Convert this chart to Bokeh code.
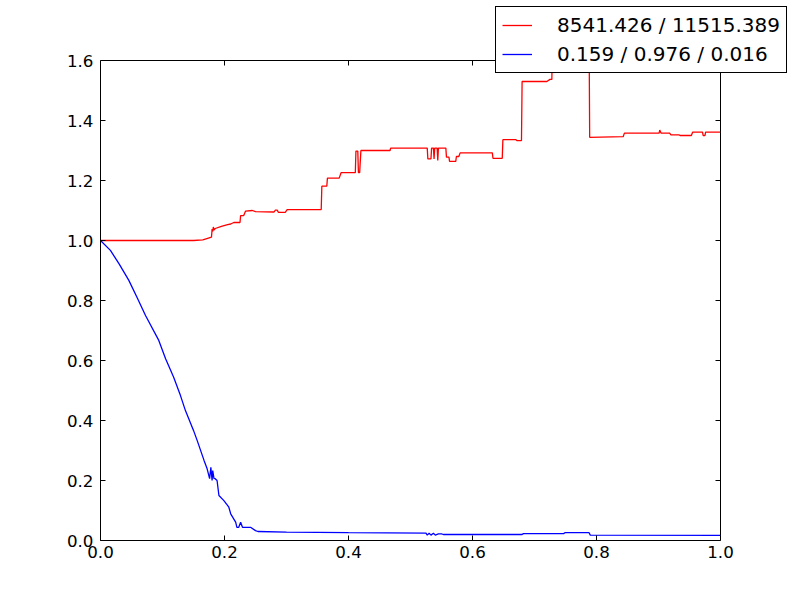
from bokeh.plotting import figure
from bokeh.models import Range1d, LinearAxis, FixedTicker, PrintfTickFormatter, Legend, LegendItem
from bokeh.embed import file_html
from bokeh.resources import INLINE

# Red series (ratio)
red_x = [0.0, 0.15, 0.165, 0.174, 0.179, 0.180, 0.181, 0.182, 0.183, 0.185, 0.195, 0.205, 0.21, 0.215,
         0.225, 0.226, 0.231, 0.234, 0.245, 0.25, 0.28, 0.282, 0.285, 0.287, 0.298, 0.301, 0.356, 0.357,
         0.365, 0.366, 0.385, 0.388, 0.411, 0.412, 0.415, 0.416, 0.418, 0.42, 0.467, 0.468, 0.527, 0.528,
         0.533, 0.534, 0.537, 0.538, 0.539, 0.543, 0.544, 0.545, 0.557, 0.558, 0.562, 0.563, 0.573, 0.574,
         0.578, 0.58, 0.632, 0.633, 0.648, 0.649, 0.67, 0.672, 0.679, 0.68, 0.72, 0.725, 0.728, 0.729,
         0.788, 0.789, 0.843, 0.845, 0.901, 0.902, 0.904, 0.918, 0.92, 0.933, 0.935, 0.953, 0.955, 0.971,
         0.972, 0.975, 0.976, 1.0]
red_y = [1.0, 1.0, 1.002, 1.008, 1.011, 1.038, 1.03, 1.045, 1.035, 1.04, 1.047, 1.053, 1.055, 1.06,
         1.06, 1.083, 1.083, 1.098, 1.1, 1.096, 1.095, 1.101, 1.101, 1.094, 1.094, 1.103, 1.103, 1.181,
         1.181, 1.208, 1.208, 1.226, 1.226, 1.298, 1.298, 1.226, 1.226, 1.3, 1.3, 1.308, 1.308, 1.272,
         1.272, 1.308, 1.308, 1.272, 1.308, 1.308, 1.267, 1.308, 1.308, 1.278, 1.278, 1.264, 1.264, 1.28,
         1.28, 1.292, 1.292, 1.274, 1.274, 1.336, 1.336, 1.333, 1.333, 1.53, 1.53, 1.537, 1.537, 1.7,
         1.7, 1.344, 1.346, 1.358, 1.358, 1.368, 1.358, 1.358, 1.352, 1.352, 1.35, 1.35, 1.361, 1.361,
         1.35, 1.35, 1.361, 1.361]

# Blue series
blue_x = [0.0, 0.016, 0.03, 0.0457, 0.059, 0.0726, 0.094, 0.105, 0.118, 0.129, 0.137, 0.150, 0.156,
          0.167, 0.172, 0.176, 0.178, 0.18, 0.181, 0.183, 0.185, 0.188, 0.191, 0.199, 0.207, 0.21, 0.218,
          0.22, 0.223, 0.226, 0.229, 0.242, 0.25, 0.254, 0.3, 0.4, 0.525, 0.527, 0.53, 0.533, 0.537, 0.54,
          0.545, 0.55, 0.553, 0.68, 0.682, 0.747, 0.749, 0.788, 0.79, 1.0]
blue_y = [1.0, 0.967, 0.922, 0.867, 0.81, 0.75, 0.667, 0.606, 0.544, 0.483, 0.433, 0.367, 0.333,
          0.267, 0.239, 0.206, 0.244, 0.2, 0.233, 0.207, 0.206, 0.2, 0.15, 0.133, 0.111, 0.089, 0.061,
          0.044, 0.044, 0.061, 0.044, 0.044, 0.033, 0.03, 0.028, 0.026, 0.0245, 0.018, 0.024, 0.018, 0.024, 0.018,
          0.022, 0.022, 0.02, 0.02, 0.023, 0.023, 0.026, 0.026, 0.018, 0.017]

labels = ["8541.426 / 11515.389", "0.159 / 0.976 / 0.016"]
ticks = [0.0, 0.2, 0.4, 0.6, 0.8, 1.0]
yticks = [0.0, 0.2, 0.4, 0.6, 0.8, 1.0, 1.2, 1.4, 1.6]
x_lo, x_hi = 0.0, 1.0
y_lo, y_hi = 0.0, 1.6

# Layout (pixels): the visible axes box is 620 x 480, starting 100px from the left
# and 60px from the top. The drawing frame is extended up and to the right so that
# the legend, which overlaps the axes box, is not clipped.
BOX_W, BOX_H = 620, 480
LEFT, TOP_EXTRA, RIGHT_EXTRA, BOTTOM = 100, 60, 72, 44
fw = BOX_W + RIGHT_EXTRA
fh = BOX_H + TOP_EXTRA
x_end = x_lo + (x_hi - x_lo) * fw / BOX_W
y_end = y_lo + (y_hi - y_lo) * fh / BOX_H

p = figure(frame_width=fw, frame_height=fh,
           min_border_left=LEFT, min_border_right=0, min_border_top=0, min_border_bottom=BOTTOM,
           x_range=Range1d(x_lo, x_end), y_range=Range1d(y_lo, y_end),
           output_backend="svg", toolbar_location=None)
p.background_fill_color = "white"
p.border_fill_color = "white"
p.outline_line_color = None
p.xgrid.visible = False
p.ygrid.visible = False

r1 = p.line(red_x, red_y, line_color="#ff0000", line_width=1.3)
r2 = p.line(blue_x, blue_y, line_color="#0000ff", line_width=1.3)

def style(ax, tick_vals, bounds, show_labels):
    ax.ticker = FixedTicker(ticks=tick_vals)
    ax.formatter = PrintfTickFormatter(format="%.1f")
    ax.bounds = bounds
    ax.major_tick_in = 5
    ax.major_tick_out = 0
    ax.minor_tick_line_color = None
    ax.axis_line_color = "black"
    ax.axis_line_width = 1
    ax.major_tick_line_color = "black"
    ax.major_label_text_font = "DejaVu Sans"
    if show_labels:
        ax.major_label_text_font_size = "16.7px"
        ax.major_label_text_color = "black"
    else:
        ax.major_label_text_font_size = "0px"
        ax.major_label_text_color = None
        ax.major_label_standoff = 0

style(p.xaxis[0], ticks, (x_lo, x_hi), True)
style(p.yaxis[0], yticks, (y_lo, y_hi), True)
p.xaxis[0].major_label_standoff = 5
p.yaxis[0].major_label_standoff = 7

top = LinearAxis(fixed_location=y_hi)
style(top, ticks, (x_lo, x_hi), False)
p.add_layout(top, "above")
right = LinearAxis(fixed_location=x_hi)
style(right, yticks, (y_lo, y_hi), False)
p.add_layout(right, "right")

legend = Legend(items=[LegendItem(label=labels[0], renderers=[r1]),
                       LegendItem(label=labels[1], renderers=[r2])],
                location=(395, 467))
legend.margin = 0
legend.padding = 6
legend.spacing = 5
legend.glyph_width = 30
legend.glyph_height = 20
legend.label_height = 20
legend.label_standoff = 25
legend.label_text_font = "DejaVu Sans"
legend.label_text_font_size = "20px"
legend.label_text_color = "black"
legend.border_line_color = "black"
legend.border_line_alpha = 1.0
legend.border_line_width = 1
legend.background_fill_color = "white"
legend.background_fill_alpha = 1.0
p.add_layout(legend)

open("out.html", "w").write(file_html(p, INLINE))
